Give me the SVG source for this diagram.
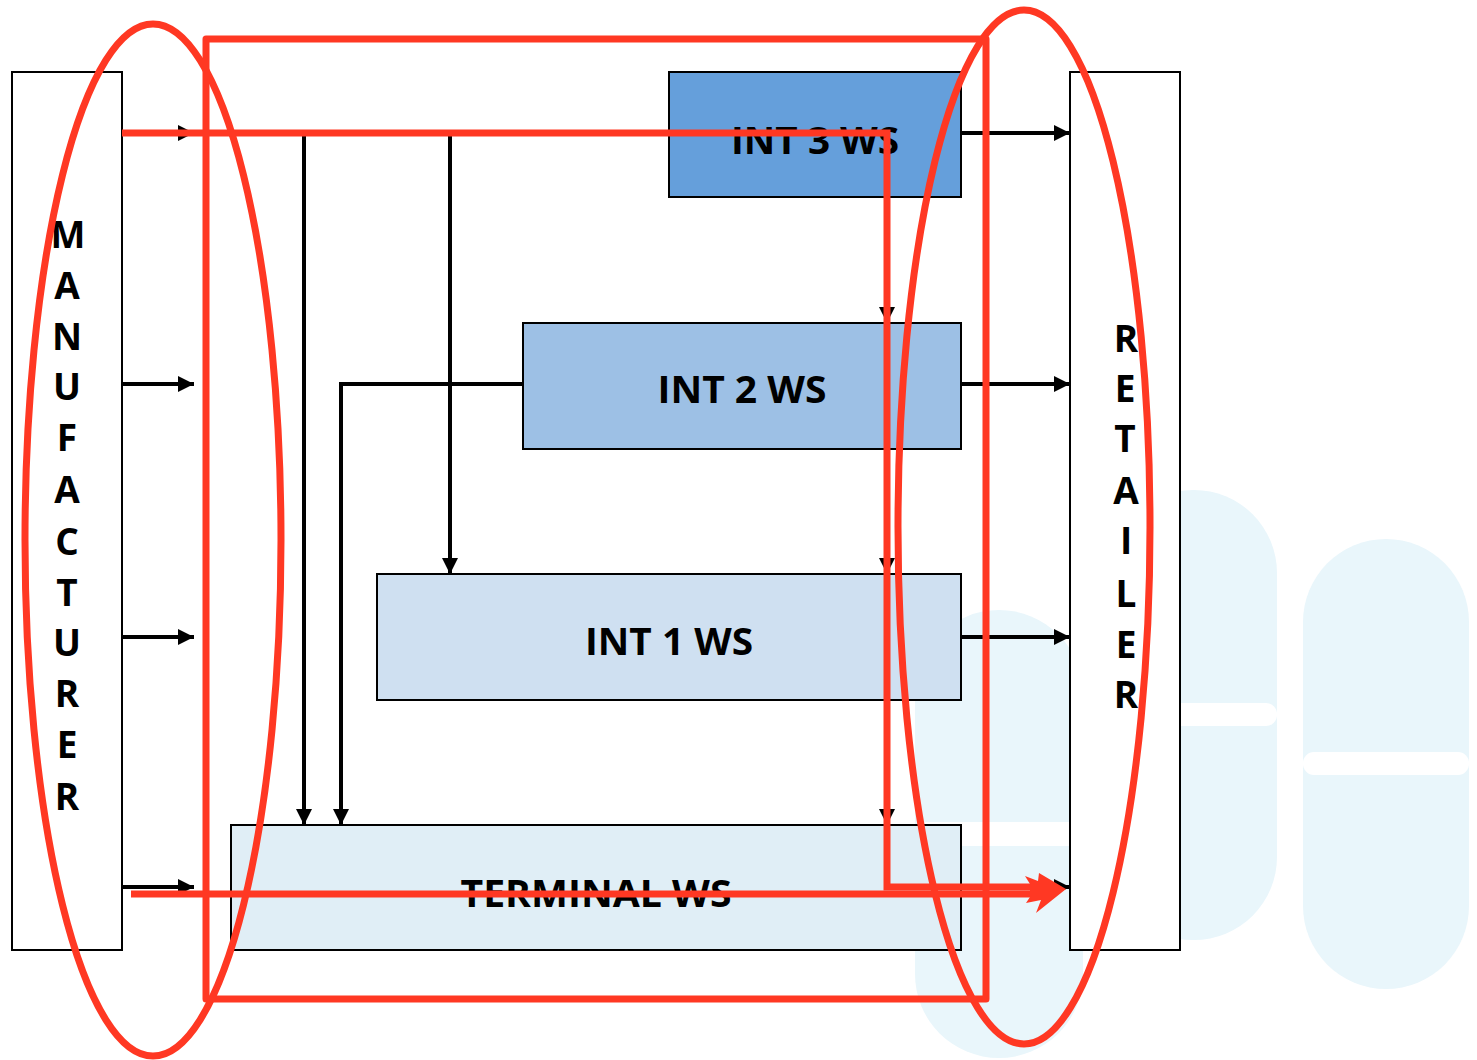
<svg xmlns="http://www.w3.org/2000/svg" width="1477" height="1060" viewBox="0 0 1477 1060">
<style>
.box{stroke:#000;stroke-width:2}
.lbl{font-family:"Open Sans","Liberation Sans",sans-serif;font-weight:bold;font-size:37px;fill:#000;text-anchor:middle}
.conn{stroke:#000;stroke-width:4;fill:none}
.red{stroke:#FF3823;stroke-width:7;fill:none}
.wm{fill:#E9F6FB}
.gap{fill:#fff}
</style>
<defs>
<marker id="arr" viewBox="0 0 10 10" refX="10" refY="5" markerWidth="17" markerHeight="16" markerUnits="userSpaceOnUse" orient="auto">
<path d="M0,0 L10,5 L0,10 z" fill="#000"/>
</marker>
</defs>
<g id="watermark">
<rect class="wm" x="915" y="610" width="168" height="448" rx="84" ry="84"/>
<rect class="gap" x="915" y="822" width="168" height="24" rx="12"/>
<rect class="wm" x="1110" y="490" width="167" height="450" rx="83" ry="83"/>
<rect class="gap" x="1110" y="703" width="167" height="23" rx="11"/>
<rect class="wm" x="1303" y="539" width="166" height="450" rx="83" ry="83"/>
<rect class="gap" x="1303" y="752" width="166" height="23" rx="11"/>
</g>
<g id="manufacturer">
<rect class="box" x="12" y="72" width="110" height="878" fill="#fff"/>
<text class="lbl"><tspan x="68" y="248">M</tspan><tspan x="67" y="299">A</tspan><tspan x="67" y="350">N</tspan><tspan x="67" y="400">U</tspan><tspan x="67" y="451">F</tspan><tspan x="67" y="503">A</tspan><tspan x="67" y="555">C</tspan><tspan x="67" y="606">T</tspan><tspan x="67" y="656">U</tspan><tspan x="67" y="707">R</tspan><tspan x="67" y="758">E</tspan><tspan x="67" y="810">R</tspan></text>
</g>
<g id="retailer">
<rect class="box" x="1070" y="72" width="110" height="878" fill="#fff"/>
<text class="lbl"><tspan x="1126" y="352">R</tspan><tspan x="1125" y="402">E</tspan><tspan x="1125" y="452">T</tspan><tspan x="1126" y="504">A</tspan><tspan x="1126" y="554">I</tspan><tspan x="1126" y="607">L</tspan><tspan x="1126" y="658">E</tspan><tspan x="1126" y="708">R</tspan></text>
</g>
<g id="int3">
<rect class="box" x="669" y="72" width="292" height="125" fill="#659FDB"/>
<text class="lbl" x="815" y="154" textLength="168" lengthAdjust="spacingAndGlyphs">INT 3 WS</text>
</g>
<g id="int2">
<rect class="box" x="523" y="323" width="438" height="126" fill="#9DC0E5"/>
<text class="lbl" x="742" y="403" textLength="169" lengthAdjust="spacingAndGlyphs">INT 2 WS</text>
</g>
<g id="int1">
<rect class="box" x="377" y="574" width="584" height="126" fill="#CFE0F1"/>
<text class="lbl" x="669" y="655" textLength="168" lengthAdjust="spacingAndGlyphs">INT 1 WS</text>
</g>
<g id="terminal">
<rect class="box" x="231" y="825" width="730" height="125" fill="#E0EEF6"/>
<text class="lbl" x="596" y="907" textLength="271" lengthAdjust="spacingAndGlyphs">TERMINAL WS</text>
</g>
<g id="connectors">
<path class="conn" d="M122,133 H887"/>
<path class="conn" d="M122,133 H194" marker-end="url(#arr)"/>
<path class="conn" d="M122,384 H194" marker-end="url(#arr)"/>
<path class="conn" d="M122,637 H194" marker-end="url(#arr)"/>
<path class="conn" d="M122,887 H194" marker-end="url(#arr)"/>
<path class="conn" d="M304,133 V825" marker-end="url(#arr)"/>
<path class="conn" d="M450,133 V574" marker-end="url(#arr)"/>
<path class="conn" d="M523,384 H341 V825" marker-end="url(#arr)"/>
<path class="conn" d="M887,133 V323" marker-end="url(#arr)"/>
<path class="conn" d="M887,449 V574" marker-end="url(#arr)"/>
<path class="conn" d="M887,700 V825" marker-end="url(#arr)"/>
<path class="conn" d="M961,133 H1070" marker-end="url(#arr)"/>
<path class="conn" d="M961,384 H1070" marker-end="url(#arr)"/>
<path class="conn" d="M961,637 H1070" marker-end="url(#arr)"/>
<path class="conn" d="M961,887 H1070" marker-end="url(#arr)"/>
</g>
<g id="highlight">
<ellipse class="red" cx="153" cy="540" rx="128" ry="516"/>
<ellipse class="red" cx="1024" cy="527" rx="126" ry="517"/>
<rect class="red" x="206" y="39" width="780" height="960" stroke-linejoin="round"/>
<path class="red" d="M122,133 H887 V887 H1040"/>
<path class="red" d="M131,894 H1040"/>
<path d="M1030,884 L1025,876 L1038,881 L1039,873 L1066,889 L1036,913 L1041,900 L1026,903 L1030,897 Z" fill="#FF3823"/>
</g>
</svg>
